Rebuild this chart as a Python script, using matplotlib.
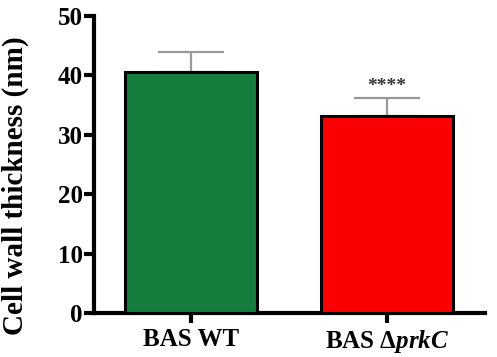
import matplotlib
matplotlib.use("Agg")
import matplotlib.pyplot as plt

categories = ["BAS WT", r"BAS $\Delta\mathit{prkC}$"]
values = [40.6, 33.2]
errors = [3.3, 3.0]
colors = ["#167D3F", "#FA0000"]
yticks = [0, 10, 20, 30, 40, 50]

plt.rcParams['font.family'] = ['Liberation Serif', 'DejaVu Serif']
plt.rcParams['mathtext.fontset'] = 'custom'
plt.rcParams['mathtext.rm'] = 'Liberation Serif:bold'
plt.rcParams['mathtext.it'] = 'Liberation Serif:bold:italic'
plt.rcParams['mathtext.bf'] = 'Liberation Serif:bold'

fig = plt.figure(figsize=(4.97, 3.57), dpi=100)
ax = fig.add_axes([0.189, 0.123, 0.787, 0.832])
x = range(len(categories))
ax.bar(x, values, width=0.67, color=colors, edgecolor="black", linewidth=2.2, zorder=3)
ax.errorbar(x, values, yerr=[[0, 0], errors], fmt="none", ecolor="#999999",
            elinewidth=1.6, capsize=24, capthick=1.6, zorder=2)
ax.text(1, values[1] + errors[1] + 0.5, "****", ha="center", va="bottom",
        fontsize=14, color="#333333", fontweight="bold")

ax.set_xlim(-0.495, 1.5)
ax.set_ylim(0, 50)
ax.set_yticks(yticks)
ax.set_xticks(list(x))
ax.set_xticklabels(categories, fontsize=18, fontweight="bold")
ax.set_yticklabels([str(t) for t in yticks], fontsize=18, fontweight="bold")
ax.set_ylabel("Cell wall thickness (nm)", fontsize=21, fontweight="bold")
ax.yaxis.set_label_coords(-0.165, 0.43)
for s in ["top", "right"]:
    ax.spines[s].set_visible(False)
for s in ["left", "bottom"]:
    ax.spines[s].set_linewidth(3)
ax.tick_params(axis="y", width=3, length=7, pad=1)
ax.tick_params(axis="x", width=3, length=7, pad=4)
fig.savefig("out.png", dpi=100)
